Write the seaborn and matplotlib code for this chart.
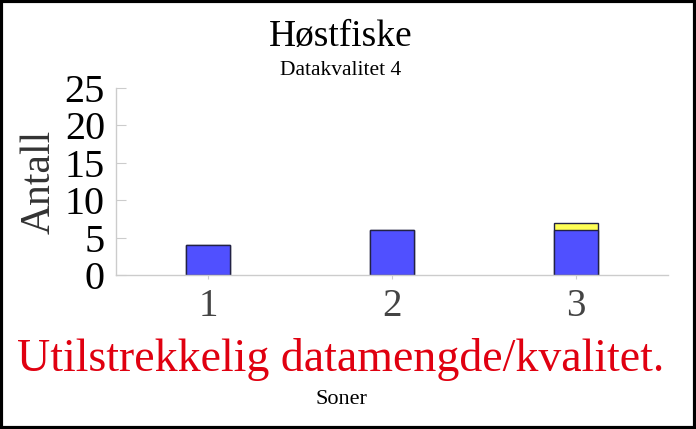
import pandas as pd
import matplotlib.pyplot as plt
import seaborn as sns

# data
zones = ['1', '2', '3']
blue_counts = [4, 6, 6]
yellow_counts = [0, 0, 1]

title = 'Høstfiske'
subtitle = 'Datakvalitet 4'
warning = 'Utilstrekkelig datamengde/kvalitet.'
xlabel = 'Soner'
ylabel = 'Antall'
yticks = [0, 5, 10, 15, 20, 25]

df = pd.DataFrame({'Sone': zones, 'blue': blue_counts, 'yellow': yellow_counts})
df['total'] = df['blue'] + df['yellow']

sns.set_style('white')
plt.rcParams['font.family'] = ['Liberation Serif', 'DejaVu Serif']

W, H = 696, 429
fig = plt.figure(figsize=(W / 100, H / 100), dpi=100)
ax = fig.add_axes([116 / W, 1 - 275 / H, (668 - 116) / W, (275 - 88) / H])

# stacked look: total (yellow) under, blue on top
sns.barplot(data=df, x='Sone', y='total', color='#ffff55', saturation=1,
            width=0.24, edgecolor='#222244', linewidth=1, ax=ax)
sns.barplot(data=df, x='Sone', y='blue', color='#5050ff', saturation=1,
            width=0.24, edgecolor='#222244', linewidth=1, ax=ax)

ax.set_xlim(-0.5, 2.5)
ax.set_ylim(0, 25)
ax.set_yticks(yticks)
ax.set_xlabel('')
ax.set_ylabel(ylabel, fontsize=30, color='#333333', labelpad=4)

sns.despine(ax=ax)
for side in ['left', 'bottom']:
    ax.spines[side].set_color('#cccccc')
    ax.spines[side].set_linewidth(1)

ax.tick_params(axis='y', direction='in', length=7, color='#cccccc',
               labelsize=29, labelcolor='black', pad=8, left=True)
ax.tick_params(axis='x', direction='out', length=3, color='#cccccc',
               labelsize=28, labelcolor='#444444', pad=6, bottom=True)

cx = 341 / W
fig.text(cx, 1 - 46 / H, title, fontsize=27, color='black', ha='center', va='baseline')
fig.text(cx, 1 - 75 / H, subtitle, fontsize=15.5, color='black', ha='center', va='baseline')
fig.text(cx, 1 - 371 / H, warning, fontsize=33, color='#e00010',
         ha='center', va='baseline')
fig.text(cx, 1 - 404 / H, xlabel, fontsize=16, color='black', ha='center', va='baseline')

# black frame round the figure
fig.add_artist(plt.Rectangle((0.002, 0.003), 0.996, 0.994, transform=fig.transFigure,
                             fill=False, edgecolor='black', linewidth=3))

fig.savefig('out.png', dpi=100)
